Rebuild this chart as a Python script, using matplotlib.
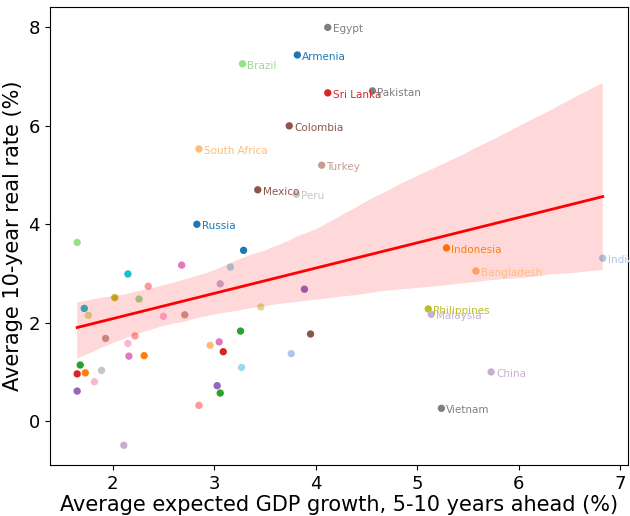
import numpy as np
import matplotlib
matplotlib.use("Agg")
import matplotlib.pyplot as plt
import seaborn as sns

# Labeled countries
names = ["Egypt", "Armenia", "Brazil", "Sri Lanka", "Pakistan", "Colombia",
         "South Africa", "Turkey", "Mexico", "Peru", "Russia", "Indonesia",
         "Bangladesh", "India", "Philippines", "Malaysia", "China", "Vietnam"]
growth = [4.12, 3.82, 3.28, 4.12, 4.56, 3.74, 2.85, 4.06, 3.43, 3.81, 2.83,
          5.29, 5.58, 6.83, 5.11, 5.14, 5.73, 5.24]
real_rate = [8.00, 7.44, 7.26, 6.67, 6.71, 6.00, 5.53, 5.20, 4.70, 4.61, 4.00,
             3.52, 3.05, 3.31, 2.28, 2.17, 1.00, 0.26]
colors = ["#7f7f7f", "#1f77b4", "#98df8a", "#d62728", "#7f7f7f", "#8c564b",
          "#ffbb78", "#c49c94", "#8c564b", "#c7c7c7", "#1f77b4", "#ff7f0e",
          "#ffbb78", "#aec7e8", "#bcbd22", "#c5b0d5", "#c5b0d5", "#7f7f7f"]

# Other countries (unlabeled)
growth_other = [1.65, 3.29, 3.16, 2.15, 2.68, 2.35, 3.06, 2.02, 2.26, 3.89,
                1.72, 1.76, 3.46, 2.50, 2.71, 1.93, 2.22, 3.26, 3.95, 2.15,
                2.96, 3.05, 3.09, 2.16, 2.31, 3.76, 1.68, 1.65, 1.73, 1.89,
                3.27, 1.82, 1.65, 3.03, 3.06, 2.85, 2.11]
rate_other = [3.63, 3.47, 3.13, 2.99, 3.17, 2.74, 2.79, 2.51, 2.48, 2.68,
              2.29, 2.15, 2.32, 2.13, 2.16, 1.68, 1.73, 1.83, 1.77, 1.58,
              1.54, 1.61, 1.41, 1.32, 1.33, 1.37, 1.14, 0.96, 0.98, 1.03,
              1.09, 0.80, 0.61, 0.72, 0.57, 0.32, -0.49]
colors_other = ["#98df8a", "#1f77b4", "#9edae5", "#17becf", "#e377c2", "#ff9896",
                "#c5b0d5", "#bcbd22", "#98df8a", "#9467bd", "#17becf", "#dbdb8d",
                "#dbdb8d", "#f7b6d2", "#c49c94", "#c49c94", "#ff9896", "#2ca02c",
                "#8c564b", "#f7b6d2", "#ffbb78", "#e377c2", "#d62728", "#e377c2",
                "#ff7f0e", "#aec7e8", "#2ca02c", "#d62728", "#ff7f0e", "#c7c7c7",
                "#9edae5", "#f7b6d2", "#9467bd", "#9467bd", "#2ca02c", "#ff9896",
                "#c5b0d5"]

fig = plt.figure(figsize=(6.3, 5.16), dpi=100)
ax = fig.add_axes([0.079, 0.099, 0.918, 0.887])

ax.scatter(growth_other, rate_other, s=28, c=colors_other, linewidths=0)
ax.scatter(growth, real_rate, s=28, c=colors, linewidths=0)
for n, x, y, c in zip(names, growth, real_rate, colors):
    ax.annotate(n, (x, y), xytext=(3.5, -1.5), textcoords="offset points",
                fontsize=7.5, color=c, va="center", ha="left")

all_x = np.array(growth + growth_other)
all_y = np.array(real_rate + rate_other)
sns.regplot(x=all_x, y=all_y, scatter=False, ax=ax, color="red",
            line_kws={"linewidth": 2}, seed=7)

ax.set_xlim(1.38, 7.08)
ax.set_ylim(-0.89, 8.41)
ax.set_xticks([2, 3, 4, 5, 6, 7])
ax.set_yticks([0, 2, 4, 6, 8])
ax.tick_params(labelsize=13)
ax.set_xlabel("Average expected GDP growth, 5-10 years ahead (%)", fontsize=15,
              labelpad=2)
ax.set_ylabel("Average 10-year real rate (%)", fontsize=15)
ax.set_title("Country averages: Growth expectations vs. real rates", fontsize=16,
             pad=8)

fig.savefig("out.png", dpi=100)
